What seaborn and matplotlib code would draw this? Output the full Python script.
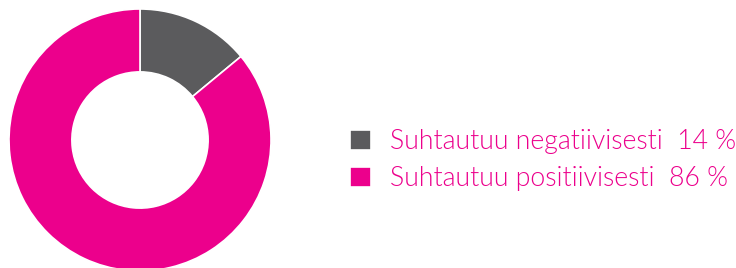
import matplotlib
matplotlib.use("Agg")
import matplotlib.pyplot as plt
import seaborn as sns

labels = ["Suhtautuu negatiivisesti", "Suhtautuu positiivisesti"]
shares = [14, 86]
colors = ["#5b5b5d", "#ec008c"]

sns.set_theme(style="white")
plt.rcParams["font.family"] = ["Lato", "DejaVu Sans"]

W, H = 736, 268
fig = plt.figure(figsize=(W / 100, H / 100), dpi=100)
# donut: centre (140, 140) px from top-left, outer radius 131 px
ax = fig.add_axes([9 / W, (128 - 131) / H, 262 / W, 262 / H])
wedges, _ = ax.pie(shares, colors=colors, startangle=90, counterclock=False,
                   wedgeprops=dict(width=0.48, edgecolor="white", linewidth=1.2))
ax.set_xlim(-1, 1)
ax.set_ylim(-1, 1)
ax.set_aspect("equal")

legend_labels = [f"{l}  {v} %" for l, v in zip(labels, shares)]
fig.legend(wedges, legend_labels, loc="center left",
           bbox_to_anchor=(350 / W, 108 / H), frameon=False,
           prop=dict(size=19.2, weight=300), labelcolor="#ec008c",
           handlelength=0.78, handleheight=0.78, handletextpad=0.72,
           labelspacing=0.45, borderpad=0, borderaxespad=0)

fig.savefig("out.png", dpi=100)
